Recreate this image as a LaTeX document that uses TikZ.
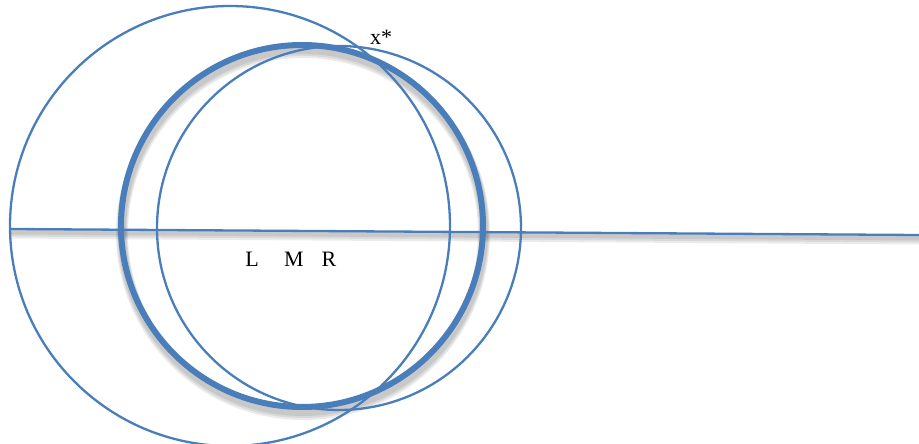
\documentclass[tikz,border=0pt]{standalone}
\usepackage{fontspec}
\setmainfont{Liberation Serif}
\definecolor{lineblue}{RGB}{74,126,187}
\begin{document}
\begin{tikzpicture}[x=1pt,y=-1pt,
  thin circ/.style={draw=lineblue,line width=2.3pt},
  thick circ/.style={draw=lineblue,line width=6pt},
  shadowline/.style={draw=black,opacity=0.08},
  lbl/.style={font=\fontsize{22}{22}\selectfont,inner sep=0pt,anchor=base}]
\useasboundingbox (0,0) rectangle (919,444);
% shadows
\foreach \d/\w in {2/8,3/10,4/12}{
  \draw[shadowline,line width=\w pt] (303,229+\d) circle[radius=181];
  \draw[shadowline,line width=\w pt-3pt] (10,230+\d) -- (919,236+\d);
}
% circles
\draw[thin circ] (230,226) circle[radius=220];
\draw[thin circ] (339,228) circle[radius=182];
\draw[thick circ] (302,226) circle[radius=181];
% horizontal line
\coordinate (lineA) at (11,229);
\coordinate (lineB) at (919,235);
\draw[draw=lineblue,line width=2.3pt] (lineA) -- (lineB);
% labels
\node[lbl] (L) at (252,266) {L};
\node[lbl] (M) at (294,266) {M};
\node[lbl] (R) at (329,266) {R};
\node[lbl] (xs) at (381,45) {x*};
\end{tikzpicture}
\end{document}
